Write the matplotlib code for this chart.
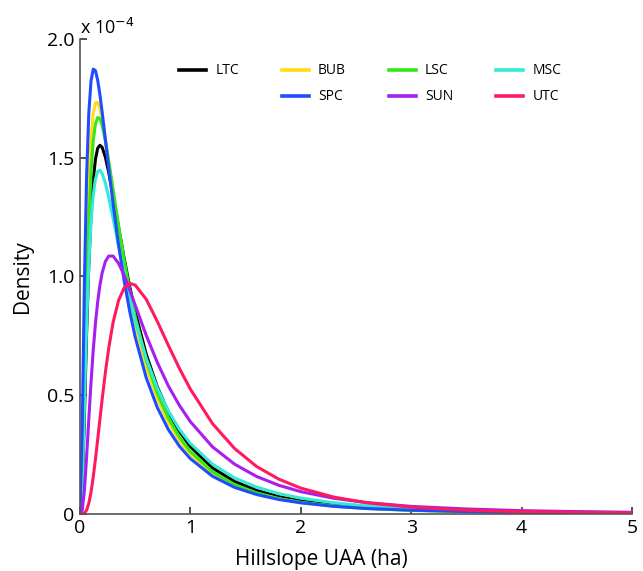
import matplotlib
matplotlib.use("Agg")
import matplotlib.pyplot as plt
from matplotlib.lines import Line2D

plt.rcParams['font.family'] = ['Open Sans', 'DejaVu Sans']

# Hillslope UAA (ha)
x = [0.0, 0.02, 0.04, 0.06, 0.08, 0.1, 0.12, 0.14, 0.16, 0.18, 0.2, 0.23, 0.26, 0.3,
     0.35, 0.4, 0.45, 0.5, 0.6, 0.7, 0.8, 0.9, 1.0, 1.2, 1.4, 1.6, 1.8, 2.0, 2.3,
     2.6, 3.0, 3.5, 4.0, 4.5, 5.0]

# Density (x 10^-4)
ltc = [0.0, 0.091, 0.409, 0.761, 1.051, 1.263, 1.406, 1.493, 1.539, 1.552, 1.544, 1.502, 1.438, 1.338,
       1.205, 1.076, 0.957, 0.850, 0.671, 0.534, 0.428, 0.346, 0.282, 0.192, 0.135, 0.097, 0.071, 0.053,
       0.036, 0.025, 0.016, 0.009, 0.006, 0.004, 0.002]
bub = [0.0, 0.189, 0.667, 1.094, 1.395, 1.583, 1.687, 1.731, 1.733, 1.707, 1.663, 1.577, 1.479, 1.344,
       1.183, 1.037, 0.909, 0.798, 0.618, 0.484, 0.384, 0.308, 0.250, 0.169, 0.118, 0.084, 0.062, 0.046,
       0.031, 0.021, 0.014, 0.008, 0.005, 0.003, 0.002]
lsc = [0.0, 0.127, 0.520, 0.920, 1.229, 1.440, 1.572, 1.642, 1.669, 1.664, 1.637, 1.571, 1.487, 1.365,
       1.212, 1.070, 0.942, 0.830, 0.646, 0.507, 0.402, 0.322, 0.261, 0.176, 0.122, 0.087, 0.063, 0.047,
       0.031, 0.021, 0.013, 0.008, 0.005, 0.003, 0.002]
msc = [0.0, 0.123, 0.462, 0.794, 1.049, 1.228, 1.343, 1.410, 1.441, 1.447, 1.434, 1.392, 1.333, 1.243,
       1.126, 1.012, 0.907, 0.813, 0.654, 0.529, 0.432, 0.355, 0.295, 0.208, 0.150, 0.111, 0.084, 0.065,
       0.045, 0.032, 0.021, 0.013, 0.009, 0.006, 0.004]
spc = [0.0, 0.349, 0.973, 1.423, 1.689, 1.824, 1.873, 1.867, 1.827, 1.767, 1.695, 1.577, 1.457, 1.304,
       1.131, 0.981, 0.853, 0.744, 0.572, 0.447, 0.354, 0.284, 0.231, 0.157, 0.110, 0.080, 0.059, 0.045,
       0.030, 0.021, 0.014, 0.008, 0.005, 0.004, 0.002]
sun = [0.0, 0.013, 0.097, 0.239, 0.400, 0.553, 0.689, 0.801, 0.891, 0.961, 1.013, 1.062, 1.085, 1.085,
       1.054, 1.004, 0.943, 0.878, 0.751, 0.637, 0.538, 0.456, 0.387, 0.281, 0.208, 0.156, 0.119, 0.092,
       0.064, 0.046, 0.030, 0.019, 0.012, 0.008, 0.005]
utc = [0.0, 0.000, 0.002, 0.014, 0.043, 0.090, 0.154, 0.229, 0.311, 0.395, 0.478, 0.595, 0.696, 0.806,
       0.899, 0.951, 0.970, 0.963, 0.903, 0.810, 0.709, 0.612, 0.524, 0.379, 0.274, 0.198, 0.145, 0.107,
       0.069, 0.045, 0.027, 0.014, 0.008, 0.005, 0.003]

names = ['LTC', 'BUB', 'LSC', 'MSC', 'SPC', 'SUN', 'UTC']
series = [ltc, bub, lsc, msc, spc, sun, utc]
colors = ['#000000', '#ffdc14', '#33e814', '#33ead6', '#1e4dff', '#a61ff0', '#ff1a5e']

xticks = [0, 1, 2, 3, 4, 5]
xticklabels = ['0', '1', '2', '3', '4', '5']
yticks = [0, 0.5, 1.0, 1.5, 2.0]
yticklabels = ['0', '0.5', '1.0', '1.5', '2.0']

fig = plt.figure(figsize=(6.43, 5.71), dpi=100)
ax = fig.add_axes([0.1244, 0.1007, 0.8585, 0.8310])

handles = {}
for name, ys, c in zip(names, series, colors):
    h, = ax.plot(x, ys, color=c, lw=2.2, solid_joinstyle='round', solid_capstyle='round')
    handles[name] = h

ax.set_xlim(0, 5)
ax.set_ylim(0, 2.0)
ax.set_xticks(xticks)
ax.set_xticklabels(xticklabels)
ax.set_yticks(yticks)
ax.set_yticklabels(yticklabels)
for s in ['top', 'right']:
    ax.spines[s].set_visible(False)
for s in ['left', 'bottom']:
    ax.spines[s].set_color('#555555')
    ax.spines[s].set_linewidth(1.2)
ax.tick_params(direction='in', length=5, width=1.2, color='#333333', labelsize=14, pad=4)

ax.set_xlabel('Hillslope UAA (ha)', fontsize=15, labelpad=7)
ax.xaxis.set_label_coords(0.438, -0.075)
ax.set_ylabel('Density', fontsize=15, labelpad=10)
ax.text(0.0, 1.003, 'x 10$^{-4}$', transform=ax.transAxes, ha='left', va='bottom', fontsize=13)

blank = Line2D([], [], color='none')
order = ['LTC', None, 'BUB', 'SPC', 'LSC', 'SUN', 'MSC', 'UTC']
leg_handles = []
for n in order:
    if n is None:
        leg_handles.append(blank)
    else:
        leg_handles.append(Line2D([], [], color=handles[n].get_color(), lw=2.6))
ll = [n if n else '' for n in order]
ax.legend(leg_handles, ll, ncol=4, loc='upper left', bbox_to_anchor=(0.157, 0.975),
          frameon=False, fontsize=10, handlelength=1.95, handletextpad=0.65,
          columnspacing=3.1, labelspacing=0.8)

fig.savefig('out.png', dpi=100)
